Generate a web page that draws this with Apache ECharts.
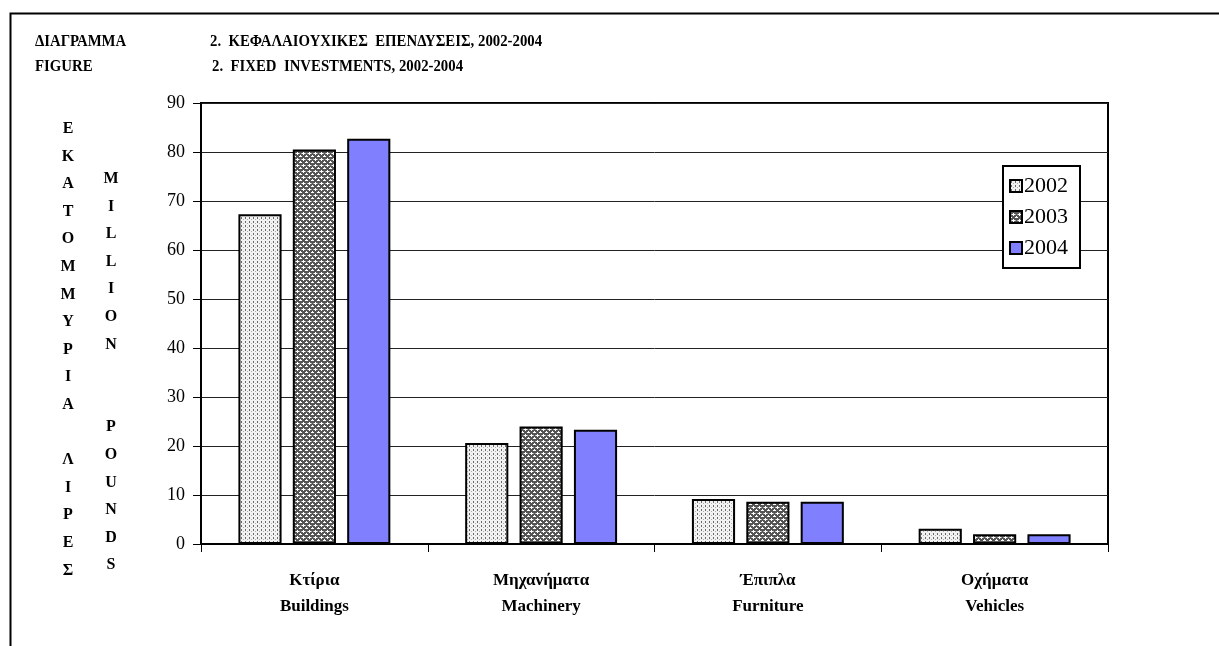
<!DOCTYPE html>
<html>
<head>
<meta charset="utf-8">
<script src="https://cdn.jsdelivr.net/npm/echarts@6/dist/echarts.min.js"></script>
<style>
html,body{margin:0;padding:0;background:#fff;}
#chart{width:1219px;height:646px;}
</style>
</head>
<body>
<div id="chart"></div>
<script>
// ---- data ----
var categories = ['Κτίρια\nBuildings', 'Μηχανήματα\nMachinery', 'Έπιπλα\nFurniture', 'Οχήματα\nVehicles'];
var seriesNames = ['2002', '2003', '2004'];
var values2002 = [67.3, 20.6, 9.2, 3.1];
var values2003 = [80.5, 24.0, 8.6, 2.0];
var values2004 = [82.7, 23.3, 8.6, 2.0];
var yTicks = [0, 10, 20, 30, 40, 50, 60, 70, 80, 90];
var titleGreekLeft = 'ΔΙΑΓΡΑΜΜΑ';
var titleGreekRight = '2.  ΚΕΦΑΛΑΙΟΥΧΙΚΕΣ  ΕΠΕΝΔΥΣΕΙΣ, 2002-2004';
var titleEngLeft = 'FIGURE';
var titleEngRight = '2.  FIXED  INVESTMENTS, 2002-2004';
var yNameGreek = ['Ε','Κ','Α','Τ','Ο','Μ','Μ','Υ','Ρ','Ι','Α','','Λ','Ι','Ρ','Ε','Σ'];
var yNameEng = ['M','I','L','L','I','O','N','','','P','O','U','N','D','S'];

// ---- patterns ----
function makePattern(kind) {
  var c = document.createElement('canvas');
  var ctx = c.getContext('2d');
  if (kind === 'dots') {
    c.width = 4; c.height = 4;
    ctx.fillStyle = '#f2f2f2'; ctx.fillRect(0, 0, 4, 4);
    ctx.fillStyle = '#6a6a6a';
    ctx.fillRect(1, 1, 1, 2);
    ctx.fillStyle = '#b0b0b0';
    ctx.fillRect(3, 3, 1, 1);
  } else {
    c.width = 6; c.height = 6;
    ctx.fillStyle = '#555555'; ctx.fillRect(0, 0, 6, 6);
    ctx.fillStyle = '#ffffff';
    ctx.fillRect(3, 2, 1, 3); ctx.fillRect(2, 3, 3, 1);
    ctx.fillRect(0, 5, 1, 2); ctx.fillRect(0, 0, 1, 1);
    ctx.fillRect(5, 0, 2, 1); ctx.fillRect(0, 0, 2, 1);
    ctx.fillStyle = '#a8a8a8';
    ctx.fillRect(1, 3, 1, 1); ctx.fillRect(5, 3, 1, 1);
  }
  return { image: c, repeat: 'repeat' };
}

var serif = '"Liberation Serif", "DejaVu Serif", serif';
var fills = [makePattern('dots'), makePattern('cross'), '#8080ff'];
var dataSets = [values2002, values2003, values2004];

var series = seriesNames.map(function (n, i) {
  return {
    name: n,
    type: 'bar',
    data: dataSets[i],
    barCategoryGap: '33%',
    barGap: '26%',
    itemStyle: { color: fills[i], borderColor: '#000', borderWidth: 2 }
  };
});

function titleText(x, y, txt) {
  return { type: 'text', x: x, y: y, scaleX: 0.87, style: { text: txt, font: 'bold 17px ' + serif, fill: '#000', verticalAlign: 'middle' } };
}

var chart = echarts.init(document.getElementById('chart'), null, { renderer: 'canvas' });
chart.setOption({
  animation: false,
  backgroundColor: '#fff',
  grid: { left: 201, top: 103, right: 111, bottom: 102, show: true, borderColor: '#000', borderWidth: 2, backgroundColor: 'transparent' },
  legend: {
    data: seriesNames,
    orient: 'vertical',
    left: 1003, top: 166,
    icon: 'rect',
    itemWidth: 12, itemHeight: 12, itemGap: 9,
    backgroundColor: '#fff',
    borderColor: '#000', borderWidth: 2,
    padding: [9, 12, 9, 6],
    textStyle: { fontFamily: serif, fontSize: 22, color: '#000', padding: [0, 0, 0, -3] }
  },
  xAxis: {
    type: 'category',
    data: categories,
    axisLine: { lineStyle: { color: '#000', width: 2 } },
    axisTick: { show: true, length: 8, lineStyle: { color: '#000', width: 1 } },
    axisLabel: { fontFamily: serif, fontWeight: 'bold', fontSize: 17, color: '#000', lineHeight: 26, margin: 24 }
  },
  yAxis: {
    type: 'value',
    min: 0, max: 90, interval: 10,
    axisLine: { show: true, lineStyle: { color: '#000', width: 2 } },
    axisTick: { show: true, length: 8, lineStyle: { color: '#000', width: 1 } },
    axisLabel: {
      fontFamily: serif, fontSize: 18, color: '#000', margin: 16,
      formatter: function (v) { return yTicks.indexOf(v) >= 0 ? String(v) : ''; }
    },
    splitLine: { show: true, lineStyle: { color: '#222', width: 1 } }
  },
  series: series,
  graphic: [
    { type: 'rect', left: 8, top: 11, shape: { width: 1240, height: 700 }, style: { fill: 'none', stroke: '#000', lineWidth: 2 }, silent: true },
    titleText(35, 42, titleGreekLeft),
    titleText(210, 42, titleGreekRight),
    titleText(35, 67, titleEngLeft),
    titleText(212, 67, titleEngRight),
    { type: 'text', x: 68, y: 115, style: { text: yNameGreek.join('\n'), font: 'bold 16px ' + serif, fill: '#000', align: 'center', verticalAlign: 'top', lineHeight: 27.6 } },
    { type: 'text', x: 111, y: 165, style: { text: yNameEng.join('\n'), font: 'bold 16px ' + serif, fill: '#000', align: 'center', verticalAlign: 'top', lineHeight: 27.6 } }
  ]
});
</script>
</body>
</html>
